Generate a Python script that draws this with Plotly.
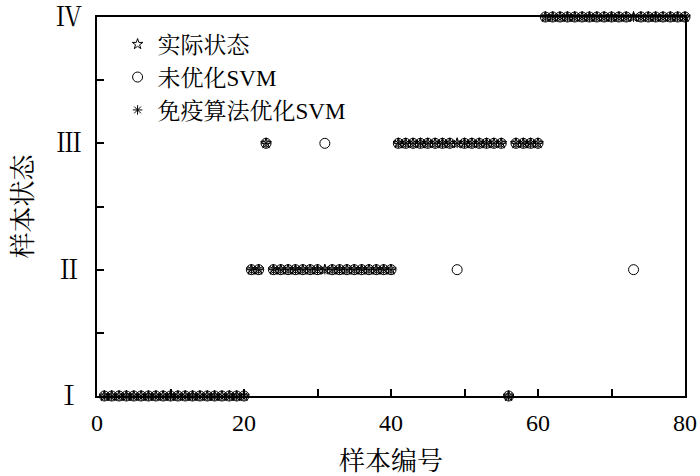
import plotly.graph_objects as go

# sample number 1..80
sample_no = list(range(1, 81))

# state codes: 1=I, 2=II, 3=III, 4=IV
actual_state = [
    1, 1, 1, 1, 1, 1, 1, 1, 1, 1, 1, 1, 1, 1, 1, 1, 1, 1, 1, 1,
    2, 2, 3, 2, 2, 2, 2, 2, 2, 2, 2, 2, 2, 2, 2, 2, 2, 2, 2, 2,
    3, 3, 3, 3, 3, 3, 3, 3, 3, 3, 3, 3, 3, 3, 3, 1, 3, 3, 3, 3,
    4, 4, 4, 4, 4, 4, 4, 4, 4, 4, 4, 4, 4, 4, 4, 4, 4, 4, 4, 4,
]
svm_state = [
    1, 1, 1, 1, 1, 1, 1, 1, 1, 1, 1, 1, 1, 1, 1, 1, 1, 1, 1, 1,
    2, 2, 3, 2, 2, 2, 2, 2, 2, 2, 3, 2, 2, 2, 2, 2, 2, 2, 2, 2,
    3, 3, 3, 3, 3, 3, 3, 3, 2, 3, 3, 3, 3, 3, 3, 1, 3, 3, 3, 3,
    4, 4, 4, 4, 4, 4, 4, 4, 4, 4, 4, 4, 2, 4, 4, 4, 4, 4, 4, 4,
]
immune_svm_state = [
    1, 1, 1, 1, 1, 1, 1, 1, 1, 1, 1, 1, 1, 1, 1, 1, 1, 1, 1, 1,
    2, 2, 3, 2, 2, 2, 2, 2, 2, 2, 2, 2, 2, 2, 2, 2, 2, 2, 2, 2,
    3, 3, 3, 3, 3, 3, 3, 3, 3, 3, 3, 3, 3, 3, 3, 1, 3, 3, 3, 3,
    4, 4, 4, 4, 4, 4, 4, 4, 4, 4, 4, 4, 4, 4, 4, 4, 4, 4, 4, 4,
]

state_vals = [1, 2, 3, 4]
state_text = ["Ⅰ", "Ⅱ", "Ⅲ", "Ⅳ"]
x_ticks = [0, 20, 40, 60, 80]

serif = "Liberation Serif, Noto Serif CJK SC, Noto Sans CJK SC"

fig = go.Figure()
fig.add_trace(go.Scatter(
    x=sample_no, y=actual_state, mode="markers", name="实际状态",
    marker=dict(symbol="star-open", size=8, color="black", line=dict(width=1, color="black")),
    cliponaxis=False,
))
fig.add_trace(go.Scatter(
    x=sample_no, y=svm_state, mode="markers", name="未优化SVM",
    marker=dict(symbol="circle-open", size=10, color="black", line=dict(width=1, color="black")),
    cliponaxis=False,
))
fig.add_trace(go.Scatter(
    x=sample_no, y=immune_svm_state, mode="markers", name="免疫算法优化SVM",
    marker=dict(symbol="asterisk-open", size=8, color="black", line=dict(width=1, color="black")),
    cliponaxis=False,
))

fig.update_layout(
    width=700, height=476,
    margin=dict(l=97, r=15, t=17, b=80),
    plot_bgcolor="white",
    paper_bgcolor="white",
    font=dict(family=serif, size=24, color="black"),
    legend=dict(
        x=0.035, y=0.985, xanchor="left", yanchor="top",
        bgcolor="rgba(0,0,0,0)", borderwidth=0,
        font=dict(family=serif, size=23),
        tracegroupgap=0,
    ),
)
fig.update_xaxes(
    range=[0, 80],
    tickvals=x_ticks,
    automargin=False,
    ticks="inside", ticklen=7, tickwidth=1.5, tickcolor="black",
    minor=dict(ticks="inside", dtick=10, ticklen=7, tickwidth=1.5, tickcolor="black"),
    showline=True, linewidth=1.5, linecolor="black", mirror=True,
    showgrid=False, zeroline=False,
    tickfont=dict(family=serif, size=24),
    ticklabelstandoff=4,
    title=dict(text="样本编号", font=dict(family=serif, size=26), standoff=18),
)
fig.update_yaxes(
    range=[1, 4],
    tickvals=state_vals, ticktext=state_text,
    automargin=False,
    ticks="inside", ticklen=7, tickwidth=1.5, tickcolor="black",
    minor=dict(ticks="inside", dtick=0.5, ticklen=7, tickwidth=1.5, tickcolor="black"),
    showline=True, linewidth=1.5, linecolor="black", mirror=True,
    showgrid=False, zeroline=False,
    tickfont=dict(family=serif, size=26),
    ticklabelstandoff=8,
    title=dict(text="样本状态", font=dict(family=serif, size=26), standoff=16),
)

# page has a default body margin; drop it so the figure fills the window
fig.write_html(
    "out.html",
    config={"displayModeBar": False},
    post_script="document.body.style.margin='0';",
)
